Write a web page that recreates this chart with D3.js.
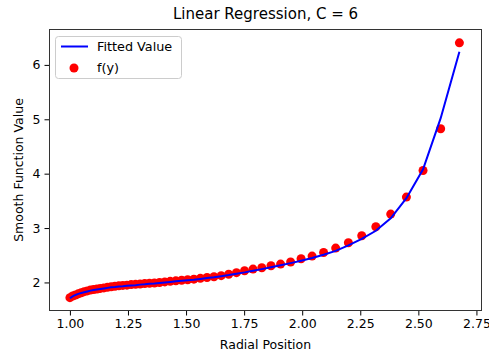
<!DOCTYPE html>
<html>
<head>
<meta charset="utf-8">
<script src="https://cdn.jsdelivr.net/npm/d3@7"></script>
<style>
  body { margin: 0; background: #fff; }
  svg text { font-family: "DejaVu Sans", sans-serif; fill: #000; }
</style>
</head>
<body>
<div id="chart"></div>
<script>
// radial positions
const radialPosition = [
  1.0000, 1.0117, 1.0238, 1.0361, 1.0487, 1.0616, 1.0748, 1.0884, 1.1023, 1.1166,
  1.1312, 1.1463, 1.1617, 1.1776, 1.1939, 1.2107, 1.2279, 1.2456, 1.2639, 1.2827,
  1.3021, 1.3221, 1.3426, 1.3639, 1.3858, 1.4085, 1.4318, 1.4560, 1.4810, 1.5069,
  1.5337, 1.5615, 1.5903, 1.6202, 1.6513, 1.6835, 1.7170, 1.7519, 1.7883, 1.8261,
  1.8657, 1.9069, 1.9501, 1.9952, 2.0425, 2.0921, 2.1441, 2.1988, 2.2563, 2.3170,
  2.3810, 2.4486, 2.5202, 2.5961, 2.6767
];
// f(y) - red dots
const observed = [
  1.72, 1.75, 1.77, 1.79, 1.81, 1.83, 1.845, 1.86, 1.87, 1.88,
  1.89, 1.90, 1.91, 1.92, 1.93, 1.94, 1.945, 1.95, 1.96, 1.965,
  1.97, 1.98, 1.985, 1.99, 2.00, 2.01, 2.02, 2.03, 2.04, 2.05,
  2.06, 2.075, 2.09, 2.105, 2.125, 2.15, 2.18, 2.215, 2.246, 2.270,
  2.307, 2.338, 2.375, 2.436, 2.485, 2.551, 2.632, 2.730, 2.858, 3.024,
  3.257, 3.570, 4.059, 4.825, 6.406
];
// Fitted Value - blue line
const fitted = [
  1.71, 1.745, 1.77, 1.79, 1.805, 1.82, 1.835, 1.85, 1.86, 1.87,
  1.88, 1.89, 1.90, 1.91, 1.915, 1.925, 1.93, 1.94, 1.945, 1.95,
  1.96, 1.965, 1.975, 1.98, 1.99, 2.00, 2.01, 2.02, 2.03, 2.04,
  2.05, 2.065, 2.08, 2.095, 2.115, 2.135, 2.16, 2.185, 2.215, 2.245,
  2.28, 2.315, 2.355, 2.40, 2.45, 2.51, 2.58, 2.68, 2.80, 2.95,
  3.18, 3.55, 4.08, 5.02, 6.24
];
const xTicks = [1.00, 1.25, 1.50, 1.75, 2.00, 2.25, 2.50, 2.75];
const yTicks = [2, 3, 4, 5, 6];

const width = 489, height = 354;
const margin = { top: 29, right: 7, bottom: 43, left: 49 };

const svg = d3.select("#chart").append("svg")
  .attr("width", width)
  .attr("height", height);

const x = d3.scaleLinear().domain([0.91, 2.774]).range([margin.left, width - margin.right]);
const y = d3.scaleLinear().domain([1.475, 6.66]).range([height - margin.bottom, margin.top]);

// axes
const xAxis = svg.append("g")
  .attr("transform", `translate(0,${height - margin.bottom})`)
  .call(d3.axisBottom(x).tickValues(xTicks).tickFormat(d3.format(".2f")).tickSize(4.5).tickPadding(4));
const yAxis = svg.append("g")
  .attr("transform", `translate(${margin.left},0)`)
  .call(d3.axisLeft(y).tickValues(yTicks).tickFormat(d3.format("d")).tickSize(4.5).tickPadding(4));
[xAxis, yAxis].forEach(g => {
  g.select(".domain").remove();
  g.selectAll("line").attr("stroke", "#000").attr("stroke-width", 1);
  g.selectAll("text").style("font-size", "12.5px").attr("fill", "#000");
});

// data
const pts = radialPosition.map((r, i) => ({ r, obs: observed[i], fit: fitted[i] }));

svg.append("g").selectAll("circle")
  .data(pts)
  .join("circle")
  .attr("cx", d => x(d.r))
  .attr("cy", d => y(d.obs))
  .attr("r", 4.5)
  .attr("fill", "#ff0000");

svg.append("path")
  .datum(pts)
  .attr("fill", "none")
  .attr("stroke", "#0000ff")
  .attr("stroke-width", 2)
  .attr("d", d3.line().x(d => x(d.r)).y(d => y(d.fit)));

// frame
svg.append("rect")
  .attr("x", margin.left + 0.5)
  .attr("y", margin.top + 0.5)
  .attr("width", width - margin.left - margin.right - 1)
  .attr("height", height - margin.top - margin.bottom - 1)
  .attr("fill", "none")
  .attr("stroke", "#333")
  .attr("stroke-width", 1);

// title + labels
svg.append("text")
  .attr("x", (margin.left + width - margin.right) / 2)
  .attr("y", 19)
  .attr("text-anchor", "middle")
  .style("font-size", "15px")
  .text("Linear Regression, C = 6");

svg.append("text")
  .attr("x", (margin.left + width - margin.right) / 2)
  .attr("y", 349)
  .attr("text-anchor", "middle")
  .style("font-size", "12.5px")
  .text("Radial Position");

svg.append("text")
  .attr("transform", `translate(23,${(margin.top + height - margin.bottom) / 2}) rotate(-90)`)
  .attr("text-anchor", "middle")
  .style("font-size", "12.5px")
  .text("Smooth Function Value");

// legend
const legend = svg.append("g").attr("transform", "translate(55,36)");
legend.append("rect")
  .attr("x", 0.5).attr("y", 0.5)
  .attr("width", 126).attr("height", 42)
  .attr("rx", 3)
  .attr("fill", "#fff").attr("fill-opacity", 0.8)
  .attr("stroke", "#ccc");
legend.append("line")
  .attr("x1", 6).attr("x2", 33)
  .attr("y1", 10.5).attr("y2", 10.5)
  .attr("stroke", "#0000ff").attr("stroke-width", 2);
legend.append("text")
  .attr("x", 42).attr("y", 15)
  .style("font-size", "12.8px")
  .text("Fitted Value");
legend.append("circle")
  .attr("cx", 19).attr("cy", 32)
  .attr("r", 4.5)
  .attr("fill", "#ff0000");
legend.append("text")
  .attr("x", 42).attr("y", 36)
  .style("font-size", "12.8px")
  .text("f(y)");
</script>
</body>
</html>
